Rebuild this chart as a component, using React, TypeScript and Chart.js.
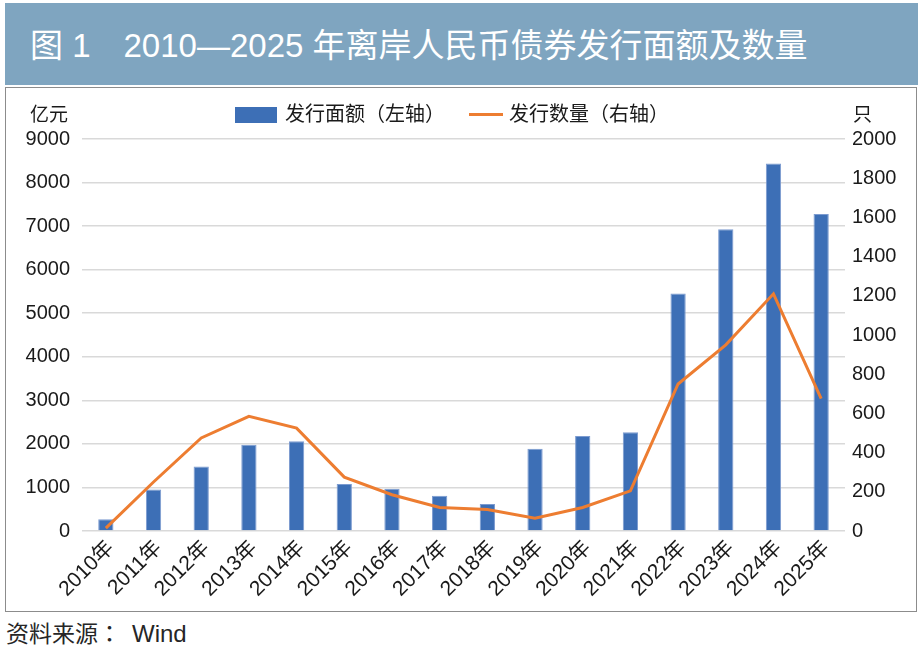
import React, { useEffect, useRef } from "react";
import { Chart, registerables } from "chart.js";

Chart.register(...registerables);

const years = ["2010年", "2011年", "2012年", "2013年", "2014年", "2015年", "2016年", "2017年", "2018年", "2019年", "2020年", "2021年", "2022年", "2023年", "2024年", "2025年"];
const issueAmount = [270, 950, 1480, 1980, 2060, 1080, 970, 810, 620, 1890, 2180, 2270, 5450, 6930, 8440, 7280];
const issueCount = [15, 250, 475, 585, 525, 275, 185, 120, 110, 65, 120, 205, 750, 950, 1210, 675];
const leftTicks = [0, 1000, 2000, 3000, 4000, 5000, 6000, 7000, 8000, 9000];
const rightTicks = [0, 200, 400, 600, 800, 1000, 1200, 1400, 1600, 1800, 2000];

const titleText = "图 1　2010—2025 年离岸人民币债券发行面额及数量";
const barLabel = "发行面额（左轴）";
const lineLabel = "发行数量（右轴）";
const leftUnit = "亿元";
const rightUnit = "只";
const sourceLabel = "资料来源：";
const sourceName = "Wind";

const FONT = '"Liberation Sans", "Noto Sans CJK SC", sans-serif';
const FONT_TC = '"Liberation Sans", "Noto Sans CJK TC", sans-serif';
const BAR_COLOR = "#3d6fb6";
const LINE_COLOR = "#ed7d31";

export default function App() {
  const canvasRef = useRef<HTMLCanvasElement | null>(null);

  useEffect(() => {
    if (!canvasRef.current) return;
    const chart = new Chart(canvasRef.current, {
      type: "bar",
      data: {
        labels: years,
        datasets: [
          {
            type: "line",
            label: lineLabel,
            data: issueCount,
            yAxisID: "y1",
            borderColor: LINE_COLOR,
            backgroundColor: LINE_COLOR,
            borderWidth: 3,
            pointRadius: 0,
            tension: 0,
            order: 0,
          } as any,
          {
            type: "bar",
            label: barLabel,
            data: issueAmount,
            yAxisID: "y",
            backgroundColor: BAR_COLOR,
            borderColor: "#7c9bd0",
            borderWidth: 1,
            categoryPercentage: 1,
            barPercentage: 0.32,
            order: 1,
          },
        ],
      },
      options: {
        animation: false,
        responsive: true,
        maintainAspectRatio: false,
        layout: { padding: { top: 51, left: 0, right: 0, bottom: 0 } },
        plugins: {
          legend: { display: false },
          tooltip: { enabled: false },
        },
        scales: {
          x: {
            grid: { display: false, drawTicks: false },
            border: { display: false },
            ticks: {
              color: "#1a1a1a",
              font: { family: FONT, size: 21 },
              maxRotation: 45,
              minRotation: 45,
              padding: 5,
              labelOffset: 5,
              autoSkip: false,
            },
            afterFit: (s: any) => {
              s.height = 80;
            },
          },
          y: {
            position: "left",
            min: 0,
            max: 9000,
            afterBuildTicks: (s: any) => {
              s.ticks = leftTicks.map((v) => ({ value: v }));
            },
            grid: { color: "#d9d9d9", lineWidth: 1.5, drawTicks: false },
            border: { display: false },
            ticks: {
              color: "#1a1a1a",
              font: { family: FONT, size: 20 },
              padding: 12,
              callback: (v: any) => String(v),
            },
            afterFit: (s: any) => {
              s.width = 76;
            },
          },
          y1: {
            position: "right",
            min: 0,
            max: 2000,
            afterBuildTicks: (s: any) => {
              s.ticks = rightTicks.map((v) => ({ value: v }));
            },
            grid: { display: false, drawTicks: false },
            border: { display: false },
            ticks: {
              color: "#1a1a1a",
              font: { family: FONT, size: 20 },
              padding: 7,
              callback: (v: any) => String(v),
            },
            afterFit: (s: any) => {
              s.width = 71;
            },
          },
        },
      },
    });
    return () => chart.destroy();
  }, []);

  const textStyle: React.CSSProperties = {
    position: "absolute",
    fontFamily: FONT,
    color: "#1a1a1a",
    whiteSpace: "nowrap",
    lineHeight: 1,
  };

  return (
    <div
      style={{
        position: "absolute",
        left: 0,
        top: 0,
        width: 923,
        height: 651,
        background: "#ffffff",
        overflow: "hidden",
      }}
    >
      <div
        style={{
          position: "absolute",
          left: 5,
          top: 3,
          width: 913,
          height: 82,
          background: "#7fa5c0",
        }}
      >
        <div
          style={{
            ...textStyle,
            left: 25,
            top: 26,
            color: "#ffffff",
            fontSize: 33,
          }}
        >
          {titleText}
        </div>
      </div>

      <div
        style={{
          position: "absolute",
          left: 5,
          top: 87,
          width: 910,
          height: 523,
          border: "1px solid #8c8c8c",
          background: "#fff",
        }}
      >
        <div style={{ position: "absolute", left: 0, top: 0, width: 910, height: 523 }}>
          <canvas ref={canvasRef} />
        </div>
      </div>

      <div style={{ ...textStyle, left: 30, top: 105, fontSize: 19 }}>{leftUnit}</div>
      <div style={{ ...textStyle, left: 853, top: 105, fontSize: 19 }}>{rightUnit}</div>

      <div style={{ position: "absolute", left: 235, top: 107, width: 42, height: 16, background: BAR_COLOR }} />
      <div style={{ ...textStyle, fontFamily: FONT_TC, left: 285, top: 104, fontSize: 20 }}>{barLabel}</div>
      <div style={{ position: "absolute", left: 469, top: 113, width: 34, height: 3, background: LINE_COLOR }} />
      <div style={{ ...textStyle, fontFamily: FONT_TC, left: 509, top: 104, fontSize: 20 }}>{lineLabel}</div>

      <div style={{ ...textStyle, fontFamily: FONT_TC, left: 6, top: 622, fontSize: 23, color: "#262626" }}>
        <span>{sourceLabel}</span>
        <span style={{ marginLeft: 11, fontSize: 24 }}>{sourceName}</span>
      </div>
    </div>
  );
}
